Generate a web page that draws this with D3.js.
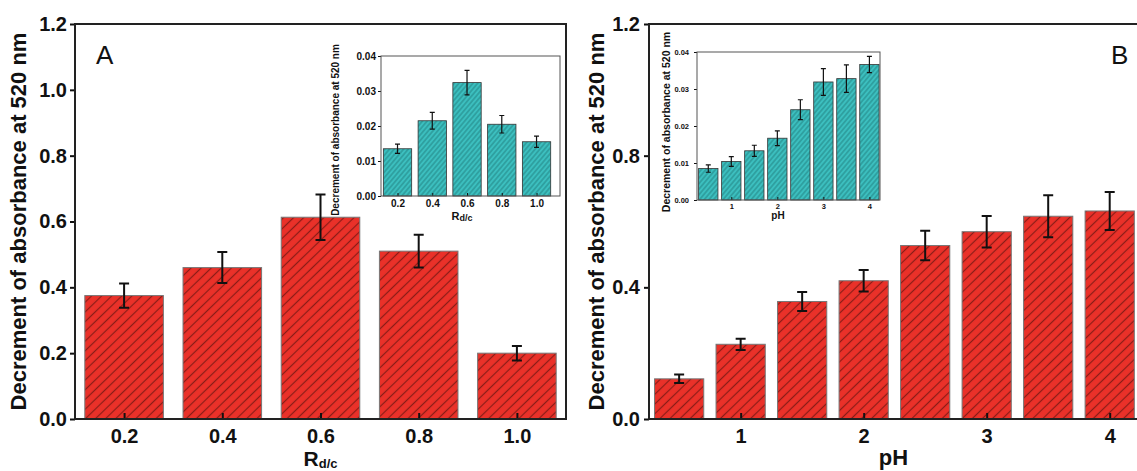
<!DOCTYPE html>
<html>
<head>
<meta charset="utf-8">
<script src="https://cdn.jsdelivr.net/npm/d3@7"></script>
<style>
  body { margin: 0; background: #fff; }
  svg { display: block; font-family: "Liberation Sans", Arial, sans-serif; }
</style>
</head>
<body>
<div id="chart"></div>
<script>
// panel A : ratio d/c
const rdcCats = [0.2, 0.4, 0.6, 0.8, 1.0]
const rdcMain = [0.375, 0.46, 0.613, 0.51, 0.2]
const rdcMainErr = [0.037, 0.047, 0.069, 0.05, 0.022]
const rdcInset = [0.0135, 0.0215, 0.0324, 0.0205, 0.0155]
const rdcInsetErr = [0.0013, 0.0024, 0.0035, 0.0025, 0.0016]
const rdcTicks = [0.2, 0.4, 0.6, 0.8, 1.0]

// panel B : pH
const phCats = [0.5, 1, 1.5, 2, 2.5, 3, 3.5, 4]
const phMain = [0.122, 0.227, 0.357, 0.42, 0.527, 0.569, 0.616, 0.632]
const phMainErr = [0.013, 0.017, 0.029, 0.033, 0.045, 0.048, 0.064, 0.058]
const phInset = [0.0085, 0.0104, 0.0133, 0.0167, 0.0244, 0.0319, 0.0328, 0.0366]
const phInsetErr = [0.001, 0.0013, 0.0015, 0.002, 0.0027, 0.0036, 0.0037, 0.0022]
const phTicks = [1, 2, 3, 4]

const yTicksA = [0, 0.2, 0.4, 0.6, 0.8, 1.0, 1.2]
const yTicksB = [0, 0.4, 0.8, 1.2]
const yTicksInset = [0, 0.01, 0.02, 0.03, 0.04]

const yTitle = "Decrement of absorbance at 520 nm"

const width = 1137
const height = 471

const svg = d3.select("#chart").append("svg")
    .attr("width", width)
    .attr("height", height)

const defs = svg.append("defs")

function hatch(id, bg, line, gap, angle, sw) {
  const p = defs.append("pattern")
      .attr("id", id)
      .attr("patternUnits", "userSpaceOnUse")
      .attr("width", gap)
      .attr("height", gap)
      .attr("patternTransform", `rotate(${angle})`)
  p.append("rect").attr("width", gap).attr("height", gap).attr("fill", bg)
  p.append("line")
      .attr("x1", -1).attr("x2", gap + 1)
      .attr("y1", gap / 2).attr("y2", gap / 2)
      .attr("stroke", line)
      .attr("stroke-width", sw)
}

hatch("redHatch", "#ea3129", "#8a1d17", 7, -44, 1.2)
hatch("cyanHatch", "#3cbfbf", "#1f7a7a", 3.6, -50, 0.8)

function panel(o) {
  const x = d3.scaleLinear().domain(o.xDomain).range([o.left, o.right])
  const y = d3.scaleLinear().domain([0, o.yMax]).range([o.bottom, o.top])
  const g = svg.append("g")

  // bars
  g.append("g")
    .selectAll("rect")
    .data(o.cats)
    .join("rect")
      .attr("x", d => x(d - o.barW / 2))
      .attr("width", d => x(d + o.barW / 2) - x(d - o.barW / 2))
      .attr("y", (d, i) => y(o.values[i]))
      .attr("height", (d, i) => y(0) - y(o.values[i]))
      .attr("fill", `url(#${o.pattern})`)
      .attr("stroke", o.barStroke)
      .attr("stroke-width", o.barStrokeW)

  // error bars
  g.append("g")
    .selectAll("path")
    .data(o.cats)
    .join("path")
      .attr("d", (d, i) => {
        const cx = x(d), hi = y(o.values[i] + o.errs[i]), lo = y(o.values[i] - o.errs[i])
        const c = o.cap
        return `M${cx - c},${hi}H${cx + c}M${cx},${hi}V${lo}M${cx - c},${lo}H${cx + c}`
      })
      .attr("fill", "none")
      .attr("stroke", "#111")
      .attr("stroke-width", o.errW)

  // axes
  const ya = g.append("g")
      .attr("transform", `translate(${o.left},0)`)
      .call(d3.axisLeft(y).tickValues(o.yTicks).tickSize(o.yTickLen).tickPadding(o.yPad)
        .tickFormat(d3.format(o.yFmt)))
  const xa = g.append("g")
      .attr("transform", `translate(0,${o.bottom})`)
      .call(d3.axisBottom(x).tickValues(o.xTicks).tickSize(-o.xTickLen).tickPadding(o.xPad)
        .tickFormat(o.xFmt))

  for (const a of [ya, xa]) {
    a.select(".domain").remove()
    a.attr("font-family", null)
    a.selectAll("text")
        .attr("font-size", o.tickFont)
        .attr("font-weight", "bold")
        .attr("fill", "#111")
    a.selectAll("line").attr("stroke", "#111").attr("stroke-width", o.tickW)
  }
  xa.selectAll("text").attr("dy", "0.71em")

  // frame
  g.append("rect")
      .attr("x", o.left).attr("y", o.top)
      .attr("width", o.right - o.left).attr("height", o.bottom - o.top)
      .attr("fill", "none")
      .attr("stroke", o.frame)
      .attr("stroke-width", o.frameW)

  // y title
  g.append("text")
      .attr("transform", `translate(${o.yTitleX},${(o.top + o.bottom) / 2 + (o.yTitleDy || 0)}) rotate(-90)`)
      .attr("text-anchor", "middle")
      .attr("font-size", o.titleFont)
      .attr("font-weight", "bold")
      .attr("fill", "#111")
      .text(yTitle)

  // x title
  const xt = g.append("text")
      .attr("x", o.xTitleX !== undefined ? o.xTitleX : (o.left + o.right) / 2)
      .attr("y", o.xTitleY)
      .attr("text-anchor", "middle")
      .attr("font-size", o.xTitleFont)
      .attr("font-weight", "bold")
      .attr("fill", "#111")
  xt.append("tspan").text(o.xTitle)
  if (o.xSub) {
    xt.append("tspan")
        .attr("font-size", o.xSubFont)
        .attr("dy", o.xSubDy)
        .text(o.xSub)
  }
}

// main A
panel({
  cats: rdcCats, values: rdcMain, errs: rdcMainErr,
  xDomain: [0.1, 1.1], left: 75, right: 566,
  yMax: 1.2, top: 24, bottom: 419,
  barW: 0.16, pattern: "redHatch", barStroke: "#777", barStrokeW: 1,
  cap: 5, errW: 2,
  yTicks: yTicksA, yFmt: ".1f", yTickLen: 5, yPad: 3,
  xTicks: rdcTicks, xFmt: d3.format(".1f"), xTickLen: 6, xPad: 10,
  tickFont: "20px", tickW: 2,
  frame: "#222", frameW: 2,
  yTitleX: 26, titleFont: "22px",
  xTitle: "R", xSub: "d/c", xTitleY: 466, xTitleFont: "21px", xSubFont: "13px", xSubDy: 2
})

// main B
panel({
  cats: phCats, values: phMain, errs: phMainErr,
  xDomain: [0.255, 4.23], left: 649, right: 1138,
  yMax: 1.2, top: 24, bottom: 419,
  barW: 0.4, pattern: "redHatch", barStroke: "#777", barStrokeW: 1,
  cap: 5, errW: 2,
  yTicks: yTicksB, yFmt: ".1f", yTickLen: 5, yPad: 4,
  xTicks: phTicks, xFmt: d3.format("d"), xTickLen: 6, xPad: 10,
  tickFont: "20px", tickW: 2,
  frame: "#222", frameW: 2,
  yTitleX: 604, titleFont: "22px",
  xTitle: "pH", xTitleY: 465, xTitleFont: "22px"
})

// inset A
panel({
  cats: rdcCats, values: rdcInset, errs: rdcInsetErr,
  xDomain: [0.105, 1.135], left: 381, right: 560,
  yMax: 0.04, top: 56, bottom: 196,
  barW: 0.163, pattern: "cyanHatch", barStroke: "#333", barStrokeW: 0.8,
  cap: 2.5, errW: 1.2,
  yTicks: yTicksInset, yFmt: ".2f", yTickLen: 3, yPad: 2,
  xTicks: rdcTicks, xFmt: d3.format(".1f"), xTickLen: 3, xPad: 4,
  tickFont: "10px", tickW: 1,
  frame: "#555", frameW: 1,
  yTitleX: 339, yTitleDy: 4, titleFont: "10px",
  xTitle: "R", xSub: "d/c", xTitleX: 462, xTitleY: 220, xTitleFont: "11px", xSubFont: "9px", xSubDy: 1
})

// inset B
panel({
  cats: phCats, values: phInset, errs: phInsetErr,
  xDomain: [0.255, 4.23], left: 697, right: 880,
  yMax: 0.04, top: 52, bottom: 200,
  barW: 0.42, pattern: "cyanHatch", barStroke: "#333", barStrokeW: 0.8,
  cap: 2.5, errW: 1.2,
  yTicks: yTicksInset, yFmt: ".2f", yTickLen: 3, yPad: 5,
  xTicks: phTicks, xFmt: d3.format("d"), xTickLen: 3, xPad: 4,
  tickFont: "7.5px", tickW: 1,
  frame: "#555", frameW: 1,
  yTitleX: 670, yTitleDy: -4, titleFont: "10.5px",
  xTitle: "pH", xTitleX: 778, xTitleY: 219, xTitleFont: "10px"
})

// panel letters
svg.append("text").attr("x", 96).attr("y", 64).attr("font-size", "26px").attr("fill", "#111").text("A")
svg.append("text").attr("x", 1111).attr("y", 64).attr("font-size", "26px").attr("fill", "#111").text("B")
</script>
</body>
</html>
